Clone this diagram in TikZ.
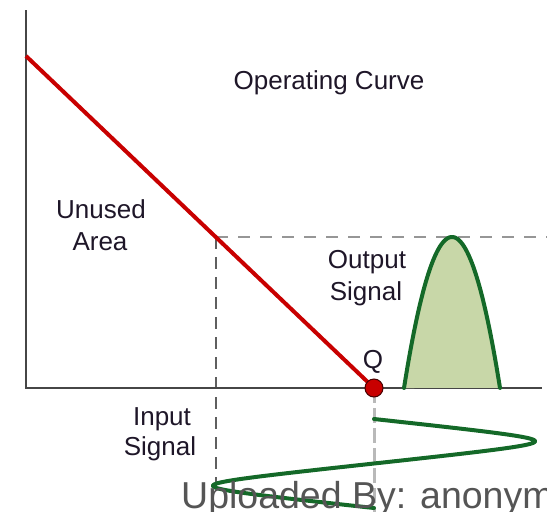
\documentclass[tikz,border=0pt]{standalone}
\usepackage{fontspec}
\setmainfont{Liberation Sans}
\definecolor{axisgray}{RGB}{70,70,70}
\definecolor{dashgray}{RGB}{150,150,150}
\definecolor{darkdash}{RGB}{95,95,95}
\definecolor{lightdash}{RGB}{185,185,185}
\definecolor{curvered}{RGB}{200,0,0}
\definecolor{qdark}{RGB}{70,0,0}
\definecolor{sigreen}{RGB}{20,105,40}
\definecolor{sigfill}{RGB}{200,215,168}
\definecolor{labeltext}{RGB}{30,22,40}
\definecolor{wmgray}{RGB}{85,85,85}
\begin{document}
\begin{tikzpicture}[x=1pt,y=-1pt,
  axisline/.style={draw=axisgray,line width=2.2pt},
  hdash/.style={draw=dashgray,line width=2pt,dash pattern=on 12pt off 10pt},
  vdash/.style={draw=darkdash,line width=1.4pt,dash pattern=on 12pt off 8pt},
  qdash/.style={draw=lightdash,line width=3pt,dash pattern=on 15pt off 5pt},
  opcurve/.style={draw=curvered,line width=4pt},
  sigline/.style={draw=sigreen,line width=4pt,line cap=round,line join=round},
  lbl/.style={anchor=base,inner sep=0pt,text=labeltext,font=\fontsize{26}{32}\selectfont},
  qdot/.style={circle,fill=curvered,draw=qdark,line width=1pt,inner sep=0pt,minimum size=18pt}]
\useasboundingbox (0,0) rectangle (547,512);
\clip (0,0) rectangle (547,512);
% reference coordinates
\coordinate (ytop) at (26,10);
\coordinate (orig) at (26,388);
\coordinate (xend) at (542,388);
\coordinate (cstart) at (26,56);
\coordinate (Qc) at (374,388);
\coordinate (corner) at (216,237);
\coordinate (hend) at (547,237);
\coordinate (vend) at (216,482);
\coordinate (qend) at (374,512);
% dashed guides
\draw[hdash] (corner) -- (hend);
\draw[vdash] (corner) -- (vend);
\draw[qdash] (Qc) -- (qend);
% axes
\draw[axisline] (ytop) -- (orig) -- (xend);
% output signal pulse
\fill[sigfill] plot[domain=-1:1,samples=80] ({452+48*\x},{388-151*(1-\x*\x)}) -- cycle;
\draw[sigline] plot[domain=-1:1,samples=80] ({452+48*\x},{388-151*(1-\x*\x)});
% input signal
\draw[sigline] plot[domain=0:360,samples=361] ({374+2.5094*asin(0.9*sin(\x))},{419+0.24722*\x});
% operating curve
\draw[opcurve] (cstart) -- (Qc);
\node[qdot] (Q) at (Qc) {};
% labels
\node[lbl] (oc) at (329,89) {Operating Curve};
\node[lbl] (un1) at (101,218) {Unused};
\node[lbl] (un2) at (100,250) {Area};
\node[lbl] (os1) at (367,268) {Output};
\node[lbl] (os2) at (366,300) {Signal};
\node[lbl] (ql) at (373,368) {Q};
\node[lbl] (is1) at (162,425) {Input};
\node[lbl] (is2) at (160,455) {Signal};
% watermark
\node[anchor=base west,inner sep=0pt,text=wmgray,font=\fontsize{37.5}{45}\selectfont] (wm) at (181,508) {Uploaded By: anonym};
\end{tikzpicture}
\end{document}
